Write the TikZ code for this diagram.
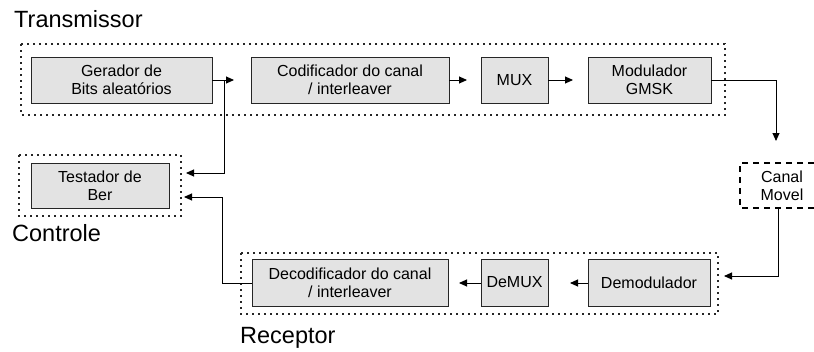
\documentclass[tikz,border=0pt]{standalone}
\usepackage{fontspec}
\setmainfont{Liberation Sans}
\usetikzlibrary{arrows.meta}
\begin{document}
\begin{tikzpicture}[x=1pt,y=-1pt,
  blk/.style={draw=black!85, fill=black!11, line width=0.9pt, inner sep=0pt, align=center,
    font=\fontsize{16}{18}\selectfont},
  grp/.style={draw=black!85, line width=1.3pt, dash pattern=on 1.6pt off 4.4pt},
  canalline/.style={draw=black, line width=2pt, dash pattern=on 6pt off 5pt},
  conn/.style={draw=black, line width=0.9pt},
  arr/.style={conn, -{Triangle[length=8pt,width=7pt]}},
  lbl/.style={anchor=base west, inner sep=0pt, font=\fontsize{23.5}{26}\selectfont}]
\useasboundingbox (0,0) rectangle (814,351);
% groups
\draw[grp] (21,44) rectangle (725,115);
\draw[grp] (19,155) rectangle (181,216);
\draw[grp] (241,253) rectangle (718,314);
% labels
\node[lbl] (ltx) at (14,27) {Transmissor};
\node[lbl] (lctl) at (12,241) {Controle};
\node[lbl] (lrx) at (240,343) {Receptor};
% blocks
\node[blk, minimum width=181pt, minimum height=46pt] (gen) at (121.5,80) {Gerador de\\Bits aleatórios};
\node[blk, minimum width=198pt, minimum height=46pt] (cod) at (350,80) {Codificador do canal\\/ interleaver};
\node[blk, minimum width=67pt, minimum height=46pt] (mux) at (514.5,80) {MUX};
\node[blk, minimum width=123pt, minimum height=46pt] (mod) at (649.5,80) {Modulador\\GMSK};
\node[blk, minimum width=138pt, minimum height=45pt] (tst) at (100,185.5) {Testador de\\Ber};
\node[blk, minimum width=196pt, minimum height=47pt] (dec) at (350,282.5) {Decodificador do canal\\/ interleaver};
\node[blk, minimum width=67pt, minimum height=47pt] (dmx) at (514.5,282.5) {DeMUX};
\node[blk, minimum width=122pt, minimum height=47pt] (dem) at (649,282.5) {Demodulador};
\node[inner sep=0pt, align=center, font=\fontsize{16}{18}\selectfont,
  minimum width=74pt, minimum height=45pt] (canal) at (777,185.5) {\hspace*{10pt}Canal\\\hspace*{10pt}Movel};
\draw[canalline] (814,163) -- (740,163) -- (740,208) -- (814,208);
% coordinates
\coordinate (j1) at (224,80);
\coordinate (t1) at (234,80);
\coordinate (t2) at (186,173);
\coordinate (t3) at (467,80);
\coordinate (t4) at (573,80);
\coordinate (c1) at (776,80);
\coordinate (t5) at (776,141);
\coordinate (c2) at (778,208);
\coordinate (c3) at (778,276);
\coordinate (t6) at (724,276);
\coordinate (t7) at (570,283);
\coordinate (t8) at (459,283);
\coordinate (c4) at (222,283);
\coordinate (c5) at (222,197);
\coordinate (t9) at (184,197);
% connectors
\draw[arr] (gen.east) -- (t1);
\draw[arr] (j1) |- (t2);
\draw[arr] (cod.east) -- (t3);
\draw[arr] (mux.east) -- (t4);
\draw[arr] (mod.east) -- (c1) -- (t5);
\draw[arr] (c2) -- (c3) -- (t6);
\draw[arr] (dem.west |- t7) -- (t7);
\draw[arr] (dmx.west |- t8) -- (t8);
\draw[arr] (dec.west |- c4) -- (c4) -- (c5) -- (t9);
\end{tikzpicture}
\end{document}
